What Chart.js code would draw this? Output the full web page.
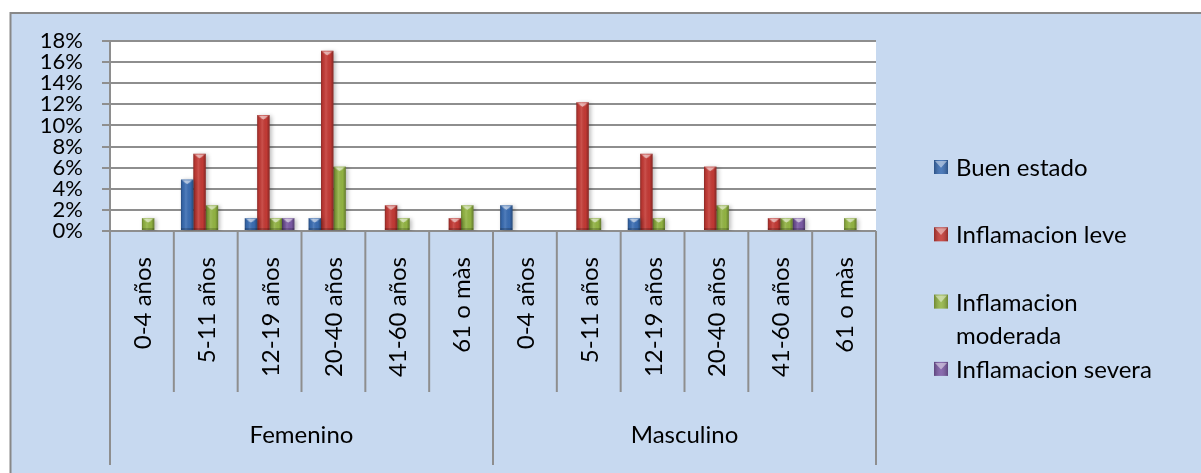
<!DOCTYPE html>
<html>
<head>
<meta charset="utf-8">
<script src="https://cdn.jsdelivr.net/npm/chart.js@4/dist/chart.umd.min.js"></script>
<style>
  html, body { margin: 0; padding: 0; background: #ffffff; }
  #wrap { width: 1201px; height: 473px; position: relative; }
</style>
</head>
<body>
<div id="wrap"><canvas id="chart" width="1201" height="473"></canvas></div>
<script>
// Age groups and sexes along the category axis
const ageGroups = ['0-4 años', '5-11 años', '12-19 años', '20-40 años', '41-60 años', '61 o màs'];
const sexes = ['Femenino', 'Masculino'];

// Percentages of patients per condition (one value per sex / age group)
const buenEstado    = [null, 4.88, 1.22, 1.22, null, null,   2.44, null, 1.22, null, null, null];
const inflLeve      = [null, 7.32, 10.98, 17.07, 2.44, 1.22, null, 12.20, 7.32, 6.10, 1.22, null];
const inflModerada  = [1.22, 2.44, 1.22, 6.10, 1.22, 2.44,   null, 1.22, 1.22, 2.44, 1.22, 1.22];
const inflSevera    = [null, null, 1.22, null, null, null,   null, null, null, null, 1.22, null];

const seriesNames = ['Buen estado', 'Inflamacion leve', 'Inflamacion moderada', 'Inflamacion severa'];

// Value axis ticks
const yTicks = [0, 2, 4, 6, 8, 10, 12, 14, 16, 18];

const categories = [];
sexes.forEach(() => ageGroups.forEach(a => categories.push(a)));

const colors = ['#3a6db3', '#c43a35', '#93b543', '#7c5ba6'];
const FONT = 'Lato, "Open Sans", sans-serif';
const GRID = '#8e8e8e';

// Panel background, plot area and outer frame
const backgroundPlugin = {
  id: 'panel',
  beforeDraw(chart) {
    const { ctx, chartArea: a } = chart;
    ctx.save();
    ctx.fillStyle = '#c7d9f0';
    ctx.fillRect(11, 13, chart.width - 11, chart.height - 13);
    ctx.strokeStyle = '#888888';
    ctx.lineWidth = 2;
    ctx.beginPath();
    ctx.moveTo(10.5, chart.height);
    ctx.lineTo(10.5, 13);
    ctx.lineTo(chart.width, 13);
    ctx.stroke();
    ctx.fillStyle = '#ffffff';
    ctx.fillRect(a.left, a.top, a.right - a.left, a.bottom - a.top);
    ctx.restore();
  }
};

// Soft shadow behind the columns
const shadowPlugin = {
  id: 'colShadow',
  beforeDatasetsDraw(chart) {
    const ctx = chart.ctx;
    ctx.save();
    ctx.shadowColor = 'rgba(0,0,0,0.28)';
    ctx.shadowBlur = 4;
    ctx.shadowOffsetX = 2;
    ctx.shadowOffsetY = 1;
  },
  afterDatasetsDraw(chart) {
    chart.ctx.restore();
  }
};

// Bevel shading on each column
const bevelPlugin = {
  id: 'bevel',
  afterDatasetsDraw(chart) {
    const ctx = chart.ctx;
    ctx.save();
    chart.data.datasets.forEach((ds, di) => {
      const meta = chart.getDatasetMeta(di);
      meta.data.forEach((el, i) => {
        if (ds.data[i] == null) return;
        const { x, y, base, width } = el.getProps(['x', 'y', 'base', 'width'], true);
        const l = x - width / 2, r = x + width / 2, h = base - y;
        const g = ctx.createLinearGradient(l, 0, r, 0);
        g.addColorStop(0, 'rgba(0,0,0,0.30)');
        g.addColorStop(0.15, 'rgba(0,0,0,0.05)');
        g.addColorStop(0.4, 'rgba(255,255,255,0.12)');
        g.addColorStop(0.75, 'rgba(0,0,0,0.02)');
        g.addColorStop(1, 'rgba(0,0,0,0.32)');
        ctx.fillStyle = g;
        ctx.fillRect(l, y, width, h);
        const b = Math.min(width * 0.32, h / 2);
        ctx.fillStyle = 'rgba(255,255,255,0.22)';
        ctx.beginPath();
        ctx.moveTo(l, y); ctx.lineTo(r, y); ctx.lineTo(r - b, y + b); ctx.lineTo(l + b, y + b);
        ctx.closePath(); ctx.fill();
        ctx.fillStyle = 'rgba(255,255,255,0.45)';
        ctx.beginPath();
        ctx.moveTo(l + 2, y + 1); ctx.lineTo(r - 2, y + 1); ctx.lineTo(x, y + Math.min(width * 0.38, h - 1));
        ctx.closePath(); ctx.fill();
        ctx.fillStyle = 'rgba(0,0,0,0.18)';
        ctx.fillRect(l, base - Math.min(2, h / 3), width, Math.min(2, h / 3));
      });
    });
    ctx.restore();
  }
};

// Two-level category axis: rotated age labels and sex group labels
const categoryAxisPlugin = {
  id: 'catAxis',
  afterDraw(chart) {
    const { ctx } = chart;
    const xs = chart.scales.x;
    const n = categories.length;
    const w = (xs.right - xs.left) / n;
    const top = chart.chartArea.bottom;
    ctx.save();
    ctx.strokeStyle = GRID;
    ctx.lineWidth = 2;
    for (let i = 0; i <= n; i++) {
      const bx = xs.left + i * w;
      const isGroupEdge = i % ageGroups.length === 0;
      ctx.beginPath();
      ctx.moveTo(bx, top);
      ctx.lineTo(bx, isGroupEdge ? 465 : 392);
      ctx.stroke();
    }
    ctx.fillStyle = '#000000';
    ctx.font = '24px ' + FONT;
    categories.forEach((lab, i) => {
      const cx = xs.getPixelForValue(i);
      ctx.save();
      ctx.translate(cx + 9, top + 26);
      ctx.rotate(-Math.PI / 2);
      ctx.textAlign = 'right';
      ctx.textBaseline = 'alphabetic';
      ctx.fillText(lab, 0, 0);
      ctx.restore();
    });
    ctx.textAlign = 'center';
    ctx.textBaseline = 'alphabetic';
    sexes.forEach((s, gi) => {
      const gx = xs.left + (gi + 0.5) * ageGroups.length * w;
      ctx.fillText(s, gx, 443);
    });
    ctx.restore();
  }
};

// Legend on the right, entries evenly spaced, long names wrapped
const legendPlugin = {
  id: 'sideLegend',
  afterDraw(chart) {
    const { ctx } = chart;
    const boxX = 934, textX = 956, maxW = 205;
    const firstBase = 176, step = 67.3, lineH = 33.5;
    ctx.save();
    ctx.font = '24px ' + FONT;
    ctx.textAlign = 'left';
    ctx.textBaseline = 'alphabetic';
    chart.data.datasets.forEach((ds, i) => {
      const base = firstBase + i * step;
      const words = ds.label.split(' ');
      const lines = [];
      let cur = '';
      words.forEach(wd => {
        const t = cur ? cur + ' ' + wd : wd;
        if (cur && ctx.measureText(t).width > maxW) { lines.push(cur); cur = wd; } else { cur = t; }
      });
      lines.push(cur);
      const bc = ds.backgroundColor;
      const by = base - 16, bs = 14;
      ctx.fillStyle = bc;
      ctx.fillRect(boxX, by, bs, bs);
      const g = ctx.createLinearGradient(boxX, 0, boxX + bs, 0);
      g.addColorStop(0, 'rgba(0,0,0,0.25)');
      g.addColorStop(0.5, 'rgba(255,255,255,0.1)');
      g.addColorStop(1, 'rgba(0,0,0,0.25)');
      ctx.fillStyle = g;
      ctx.fillRect(boxX, by, bs, bs);
      ctx.fillStyle = 'rgba(255,255,255,0.45)';
      ctx.beginPath();
      ctx.moveTo(boxX + 1, by + 1); ctx.lineTo(boxX + bs - 1, by + 1); ctx.lineTo(boxX + bs / 2, by + bs * 0.55);
      ctx.closePath(); ctx.fill();
      ctx.fillStyle = '#000000';
      lines.forEach((ln, li) => ctx.fillText(ln, textX, base + li * lineH));
    });
    ctx.restore();
  }
};

const seriesValues = [buenEstado, inflLeve, inflModerada, inflSevera];

function build() {
  new Chart(document.getElementById('chart'), {
    type: 'bar',
    data: {
      labels: categories,
      datasets: seriesNames.map((name, i) => ({
        label: name,
        data: seriesValues[i],
        backgroundColor: colors[i],
        borderWidth: 0,
        categoryPercentage: 0.777,
        barPercentage: 1.0
      }))
    },
    options: {
      responsive: false,
      animation: false,
      events: [],
      layout: { padding: { top: 41, right: 325, bottom: 0, left: 10 } },
      plugins: { legend: { display: false }, tooltip: { enabled: false } },
      scales: {
        x: {
          ticks: { display: false },
          grid: { display: false },
          border: { display: false },
          afterFit(s) { s.height = 242; }
        },
        y: {
          min: 0,
          max: 18,
          afterBuildTicks(s) { s.ticks = yTicks.map(v => ({ value: v })); },
          ticks: {
            autoSkip: false,
            font: { family: FONT, size: 22 },
            color: '#000000',
            padding: 19,
            callback: v => v + '%'
          },
          grid: { color: GRID, lineWidth: 2, tickLength: 8 },
          border: { color: GRID, width: 2 },
          afterFit(s) { s.width = 100; }
        }
      }
    },
    plugins: [backgroundPlugin, shadowPlugin, bevelPlugin, categoryAxisPlugin, legendPlugin]
  });
}

if (document.fonts && document.fonts.load) {
  Promise.all([document.fonts.load('24px Lato'), document.fonts.load('22px Lato')]).then(build, build);
} else {
  build();
}
</script>
</body>
</html>
